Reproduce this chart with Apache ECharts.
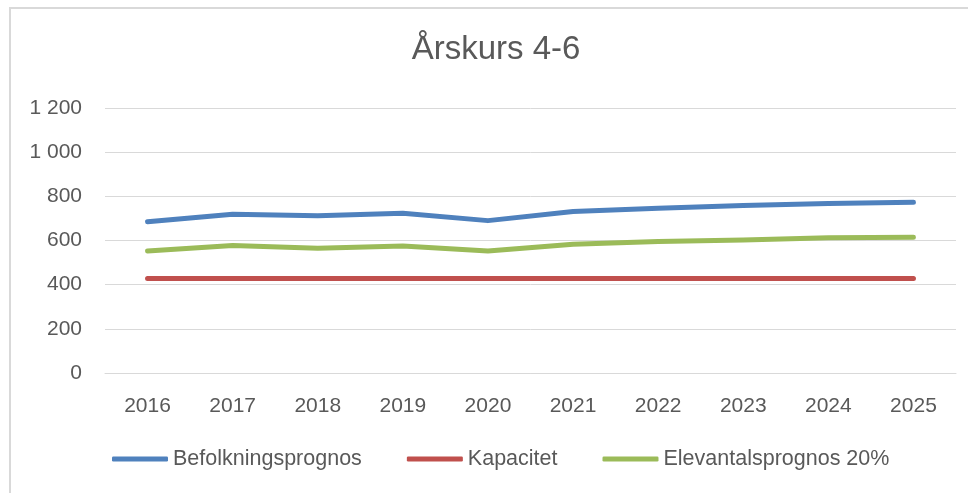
<!DOCTYPE html>
<html>
<head>
<meta charset="utf-8">
<script src="https://cdn.jsdelivr.net/npm/echarts@6/dist/echarts.min.js"></script>
<style>
html,body{margin:0;padding:0;background:#fff;}
#chart{width:968px;height:493px;}
</style>
</head>
<body>
<div id="chart"></div>
<script>
const titleText = 'Årskurs 4-6';
const categories = ['2016','2017','2018','2019','2020','2021','2022','2023','2024','2025'];
const seriesNames = ['Befolkningsprognos','Kapacitet','Elevantalsprognos 20%'];
const befolkning = [685, 719, 712, 723, 690, 731, 746, 758, 768, 773];
const kapacitet = [428, 428, 428, 428, 428, 428, 428, 428, 428, 428];
const elevantal = [552, 577, 565, 575, 552, 583, 595, 602, 613, 615];
const yTicks = [0, 200, 400, 600, 800, 1000, 1200];
const colors = ['#4F81BD', '#C0504D', '#9BBB59'];

const font = 'Liberation Sans, Arial, sans-serif';
const textColor = '#595959';

function fmt(v){
  const s = String(v);
  return s.replace(/\B(?=(\d{3})+(?!\d))/g, ' ');
}

const chart = echarts.init(document.getElementById('chart'), null, {renderer:'canvas'});
const values = [befolkning, kapacitet, elevantal];
chart.setOption({
  animation: false,
  backgroundColor: '#fff',
  title: {
    text: titleText,
    left: 496,
    textAlign: 'center',
    top: 33,
    padding: 0,
    textStyle: {fontFamily: font, fontSize: 33, fontWeight: 'normal', color: textColor}
  },
  graphic: [{
    type: 'rect',
    shape: {x: 10, y: 8, width: 1200, height: 800},
    style: {fill: null, stroke: '#d9d9d9', lineWidth: 2},
    silent: true
  }],
  legend: {
    data: seriesNames,
    left: 112,
    top: 448,
    padding: 0,
    icon: 'roundRect',
    itemWidth: 56,
    itemHeight: 5,
    itemGap: 45,
    textStyle: {fontFamily: font, fontSize: 21.5, color: textColor, padding: [0,0,0,0]}
  },
  grid: {left: 105, right: 12, top: 108, bottom: 120},
  xAxis: {
    type: 'category',
    data: categories,
    boundaryGap: true,
    axisLine: {show: true, lineStyle: {color: '#d9d9d9', width: 1}},
    axisTick: {show: false},
    axisLabel: {fontFamily: font, fontSize: 21, color: textColor, margin: 23}
  },
  yAxis: {
    type: 'value',
    min: yTicks[0],
    max: yTicks[yTicks.length-1],
    interval: yTicks[1]-yTicks[0],
    axisLine: {show: false},
    axisTick: {show: false},
    splitLine: {lineStyle: {color: '#d9d9d9', width: 1}},
    axisLabel: {fontFamily: font, fontSize: 21, color: textColor, margin: 23, formatter: fmt}
  },
  series: seriesNames.map((n, i) => ({
    name: n,
    type: 'line',
    data: values[i],
    symbol: 'none',
    smooth: false,
    color: colors[i],
    lineStyle: {width: 5, color: colors[i], cap: 'round', join: 'round'},
    z: i === 0 ? 3 : 2
  }))
});
</script>
</body>
</html>
